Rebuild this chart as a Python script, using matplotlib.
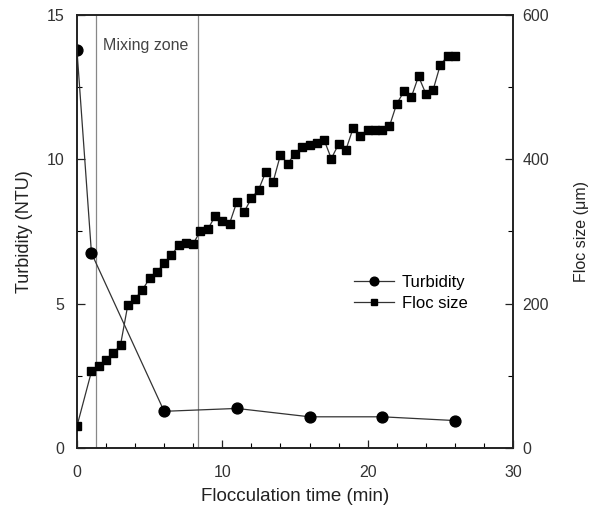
import matplotlib
matplotlib.use("Agg")
import matplotlib.pyplot as plt
from matplotlib.ticker import MultipleLocator

plt.rcParams['font.family'] = ['Liberation Sans', 'DejaVu Sans']

turb_time = [0, 1, 6, 11, 16, 21, 26]
turbidity = [13.8, 6.75, 1.27, 1.37, 1.08, 1.08, 0.95]

floc_time = [0, 1.0, 1.5, 2.0, 2.5, 3.0, 3.5, 4.0, 4.5, 5.0, 5.5, 6.0, 6.5, 7.0,
             7.5, 8.0, 8.5, 9.0, 9.5, 10.0, 10.5, 11.0, 11.5, 12.0, 12.5, 13.0,
             13.5, 14.0, 14.5, 15.0, 15.5, 16.0, 16.5, 17.0, 17.5, 18.0, 18.5,
             19.0, 19.5, 20.0, 20.5, 21.0, 21.5, 22.0, 22.5, 23.0, 23.5, 24.0,
             24.5, 25.0, 25.5, 26.0]
floc_size = [30, 106, 113, 122, 131, 143, 198, 207, 219, 235, 244, 256, 267, 281,
             284, 283, 301, 303, 321, 314, 311, 341, 327, 346, 358, 383,
             369, 406, 394, 408, 417, 420, 423, 427, 401, 421, 413,
             443, 433, 440, 440, 440, 446, 477, 494, 486, 515, 491,
             496, 531, 543, 543]

mixing_zone = [1.3, 8.3]

fig = plt.figure(figsize=(6.01, 5.17), dpi=100)
ax = fig.add_axes([0.128, 0.1335, 0.7256, 0.8375])
ax2 = ax.twinx()

for xv in mixing_zone:
    ax.axvline(xv, color='#888888', lw=0.9, zorder=1)
ax.text(1.8, 13.95, 'Mixing zone', fontsize=11.5, color='#444444', va='center')

l1, = ax.plot(turb_time, turbidity, color='#333333', lw=0.9, marker='o',
              markersize=7.8, markerfacecolor='black', markeredgecolor='black',
              label='Turbidity', zorder=3)
l2, = ax2.plot(floc_time, floc_size, color='#333333', lw=0.9, marker='s',
               markersize=6.2, markerfacecolor='black', markeredgecolor='black',
               label='Floc size', zorder=3)

ax.set_xlim(0, 30)
ax.set_ylim(0, 15)
ax2.set_ylim(0, 600)

ax.xaxis.set_major_locator(MultipleLocator(10))
ax.xaxis.set_minor_locator(MultipleLocator(2))
ax.yaxis.set_major_locator(MultipleLocator(5))
ax.yaxis.set_minor_locator(MultipleLocator(2.5))
ax2.yaxis.set_major_locator(MultipleLocator(200))
ax2.yaxis.set_minor_locator(MultipleLocator(100))

for a in (ax, ax2):
    a.tick_params(which='major', direction='in', length=6, width=0.9, labelsize=11.5,
                  colors='#222222', labelcolor='#333333')
    a.tick_params(which='minor', direction='in', length=3.5, width=0.8)
    for s in a.spines.values():
        s.set_linewidth(1.2)
        s.set_color('#222222')
ax.tick_params(axis='x', top=False, pad=12)
ax.tick_params(axis='y', pad=9)
ax2.tick_params(axis='y', pad=7)

ax.set_xlabel('Flocculation time (min)', fontsize=13.5, labelpad=6, color='#222222')
ax.set_ylabel('Turbidity (NTU)', fontsize=13, labelpad=10, color='#222222')
ax2.set_ylabel('Floc size (\u03bcm)', fontsize=11.5, labelpad=18, color='#222222')

leg = ax.legend([l1, l2], ['Turbidity', 'Floc size'], loc='upper left',
                bbox_to_anchor=(0.6, 0.435), frameon=False, fontsize=12,
                handlelength=2.4, handletextpad=0.5, labelspacing=0.38, markerscale=0.8)

fig.savefig('out.png', dpi=100)
